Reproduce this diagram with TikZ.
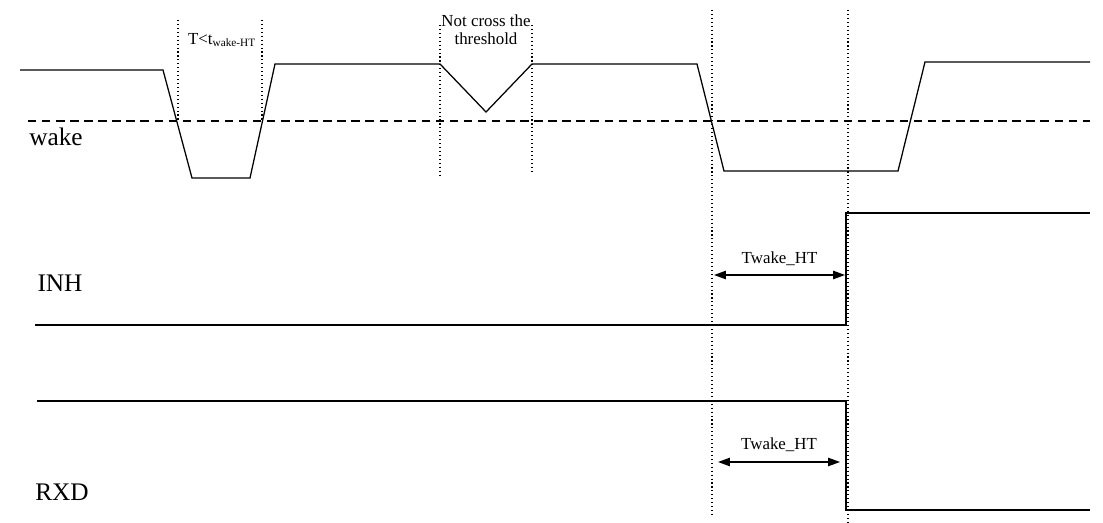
\documentclass[tikz,border=0pt]{standalone}
\usepackage{fontspec}
\setmainfont{Liberation Serif}
\usetikzlibrary{arrows.meta}

\begin{document}
\begin{tikzpicture}[x=0.025cm,y=-0.025cm,line width=0.8pt,
    sig/.style={line width=0.9pt},
    guide/.style={dotted,line width=0.8pt},
    thr/.style={dash pattern=on 6pt off 4pt,line width=0.8pt},
    span/.style={{Triangle[length=8.5pt,width=6pt]}-{Triangle[length=8.5pt,width=6pt]},line width=0.9pt},
    lbl/.style={font=\fontsize{18}{20}\selectfont},
    note/.style={font=\fontsize{12}{13}\selectfont,align=center,inner sep=0pt}]
    \useasboundingbox (0,0) rectangle (1103,523);

    \draw[sig] (20,70) -- (163,70) -- (192,178) -- (250,178) -- (275,64) -- (440,64)
        -- (486,112) -- (532,64) -- (697,64) -- (724,171) -- (898,171) -- (925,62) -- (1090,62);
    \draw[thr] (28,121) -- (1090,121);

    \draw[guide] (178,20) -- (178,121) (262,20) -- (262,121);
    \draw[guide] (440,25) -- (440,178) (532,25) -- (532,173);
    \draw[guide] (712,10) -- (712,516) (848,10) -- (848,523);

    \node (lim) at (222,40) [note] {T<t\textsubscript{wake-HT}};
    \node (nocross) at (486,30) [note] {Not cross the\\threshold};

    \node (wake) at (56,137) [lbl] {wake};
    \node (inh) at (60,283) [lbl] {INH};
    \node (rxd) at (62,492) [lbl] {RXD};

    \draw[sig] (35,325) -- (846,325) -- (846,213) -- (1090,213);
    \draw[sig] (37,401) -- (846,401) -- (846,510) -- (1090,510);

    \coordinate (a1) at (714,275);
    \coordinate (b1) at (845,275);
    \coordinate (a2) at (718,462);
    \coordinate (b2) at (840,462);
    \draw[span] (a1) -- (b1) node[midway,above=6pt,note] {Twake\_HT};
    \draw[span] (a2) -- (b2) node[midway,above=7pt,note] {Twake\_HT};
\end{tikzpicture}
\end{document}
